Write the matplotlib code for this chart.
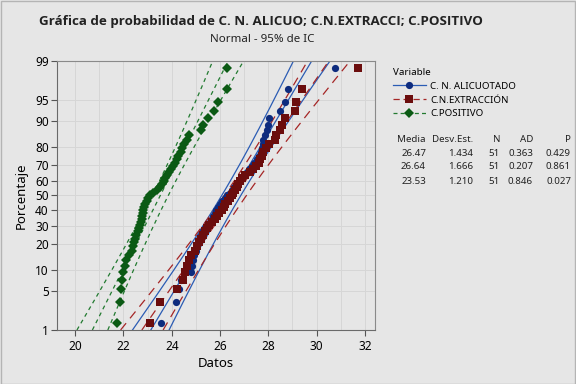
import numpy as np
import matplotlib.pyplot as plt
from matplotlib.lines import Line2D
from statistics import NormalDist

# Data (sorted values, n = 51 each)
series_names = ['C. N. ALICUOTADO', 'C.N.EXTRACCIÓN', 'C.POSITIVO']

alicuotado = [23.55, 24.18, 24.30, 24.37, 24.80, 24.85, 24.89, 24.94, 25.00, 25.05,
              25.10, 25.15, 25.22, 25.30, 25.40, 25.50, 25.58, 25.66, 25.72, 25.78,
              25.85, 25.92, 26.00, 26.10, 26.20, 26.30, 26.40, 26.50, 26.60, 26.70,
              26.80, 26.90, 27.00, 27.10, 27.22, 27.32, 27.42, 27.55, 27.62, 27.68,
              27.74, 27.77, 27.80, 27.88, 27.95, 28.00, 28.05, 28.50, 28.70, 28.83,
              30.75]

extraccion = [23.10, 23.50, 24.20, 24.45, 24.55, 24.65, 24.72, 24.78, 24.95, 25.05,
              25.12, 25.20, 25.30, 25.38, 25.45, 25.55, 25.68, 25.80, 25.88, 25.95,
              26.07, 26.15, 26.22, 26.32, 26.40, 26.48, 26.55, 26.62, 26.70, 26.76,
              26.82, 26.90, 27.05, 27.25, 27.35, 27.50, 27.60, 27.65, 27.72, 27.79,
              27.90, 28.05, 28.27, 28.34, 28.48, 28.55, 28.69, 29.10, 29.14, 29.40,
              31.72]

positivo = [21.75, 21.87, 21.90, 21.93, 21.97, 22.05, 22.11, 22.23, 22.35, 22.40,
            22.44, 22.48, 22.54, 22.59, 22.65, 22.69, 22.71, 22.75, 22.79, 22.81,
            22.83, 22.85, 22.90, 22.96, 23.02, 23.10, 23.23, 23.39, 23.52, 23.60,
            23.68, 23.74, 23.81, 23.89, 23.97, 24.05, 24.14, 24.22, 24.28, 24.37,
            24.43, 24.53, 24.62, 24.73, 25.21, 25.30, 25.52, 25.75, 25.93, 26.29,
            26.31]

media = [26.47, 26.64, 23.53]
desv_est = [1.434, 1.666, 1.210]
n_obs = [51, 51, 51]
ad_stat = [0.363, 0.207, 0.846]
p_val = [0.429, 0.861, 0.027]

pct_ticks = [1, 5, 10, 20, 30, 40, 50, 60, 70, 80, 90, 95, 99]
x_ticks = [20, 22, 24, 26, 28, 30, 32]

marker_colors = ['#0d2b7e', '#6b0d0d', '#0b5a14']
line_colors = ['#2b5cb4', '#a52626', '#227a30']
markers = ['o', 's', 'D']
msizes = [5.2, 5.6, 5.0]
dashes = [None, (7, 5), (3.2, 3)]

nd = NormalDist()
bg = '#e6e6e6'

plt.rcParams['font.family'] = ['Noto Sans', 'DejaVu Sans']

fig = plt.figure(figsize=(5.76, 3.84), dpi=100, facecolor=bg)
ax = fig.add_axes([57 / 576, 1 - 330 / 384, 318 / 576, 269.3 / 384])
ax.set_facecolor(bg)

zmin = nd.inv_cdf(0.01)
zmax = nd.inv_cdf(0.99)
zz = np.linspace(zmin, zmax, 200)

data_sets = [alicuotado, extraccion, positivo]
for k, vals in enumerate(data_sets):
    vals = np.sort(np.array(vals))
    n = len(vals)
    ranks = np.arange(1, n + 1)
    pp = (ranks - 0.3) / (n + 0.4)
    zpts = np.array([nd.inv_cdf(p) for p in pp])

    m, s = media[k], desv_est[k]
    fit = m + s * zz
    half = 1.96 * s * np.sqrt((1 + zz ** 2 / 2) / n_obs[k])
    for xs in (fit, fit - half, fit + half):
        ln, = ax.plot(xs, zz, color=line_colors[k], lw=0.9, zorder=2)
        if dashes[k] is not None:
            ln.set_dashes(dashes[k])

    ax.plot(vals, zpts, linestyle='none', marker=markers[k],
            markersize=msizes[k], color=marker_colors[k],
            markeredgewidth=0, zorder=3 + k)

ax.set_xlim(19.25, 32.42)
ax.set_ylim(zmin, zmax)
ax.set_yticks([nd.inv_cdf(p / 100) for p in pct_ticks])
ax.set_yticklabels([str(p) for p in pct_ticks])
ax.set_xticks(x_ticks)
ax.set_xticks(np.arange(20, 33, 1), minor=True)
ax.tick_params(axis='both', which='major', labelsize=8.5, length=4,
               color='#555555', pad=2)
ax.tick_params(axis='x', which='minor', length=0)
ax.tick_params(axis='x', which='major', pad=3)
ax.grid(True, which='both', color='#d6d6d6', lw=0.7)
ax.set_axisbelow(True)
for side in ['left', 'bottom']:
    ax.spines[side].set_color('#6a6a6a')
    ax.spines[side].set_linewidth(0.8)
for side in ['top', 'right']:
    ax.spines[side].set_color('#8a8a8a')
    ax.spines[side].set_linewidth(0.8)

ax.set_xlabel('Datos', fontsize=9.5, labelpad=3)
ax.set_ylabel('Porcentaje', fontsize=9.5, labelpad=5)

fig.text(0.453, 1 - 21 / 384, 'Gráfica de probabilidad de C. N. ALICUO; C.N.EXTRACCI; C.POSITIVO',
         ha='center', va='center', fontsize=9.6, fontweight='bold', color='#222222',
         family=['Open Sans', 'DejaVu Sans'])
fig.text(0.455, 1 - 40 / 384, 'Normal - 95% de IC', ha='center', va='center',
         fontsize=8.3, color='#222222')

# legend
handles = []
for k in range(3):
    h = Line2D([], [], color=line_colors[k], lw=0.9, marker=markers[k],
               markersize=msizes[k], markerfacecolor=marker_colors[k],
               markeredgewidth=0)
    if dashes[k] is not None:
        h.set_dashes((3.2, 2.5) if k == 2 else (5, 3))
    handles.append(h)
leg = fig.legend(handles, series_names, title='Variable', loc='upper left',
                 bbox_to_anchor=(389 / 576, 1 - 64 / 384), frameon=False,
                 fontsize=7.0, title_fontsize=7.0, handlelength=3.4,
                 handletextpad=0.45, labelspacing=0.5, borderaxespad=0)
leg._legend_box.align = 'left'

# stats table
col_right = [426, 473, 500, 533, 571]
headers = ['Media', 'Desv.Est.', 'N', 'AD', 'P']
row_y = [139, 153, 167, 181]
for c, htxt in enumerate(headers):
    fig.text(col_right[c] / 576, 1 - row_y[0] / 384, htxt, ha='right',
             va='center', fontsize=7, color='#222222')
for r in range(3):
    cells = [f'{media[r]:.2f}', f'{desv_est[r]:.3f}', f'{n_obs[r]}',
             f'{ad_stat[r]:.3f}', f'{p_val[r]:.3f}']
    for c, txt in enumerate(cells):
        fig.text(col_right[c] / 576, 1 - row_y[r + 1] / 384, txt, ha='right',
                 va='center', fontsize=7, color='#222222')

fig.patches.append(plt.Rectangle((0.001, 0.001), 0.998, 0.997, transform=fig.transFigure,
                                 fill=False, edgecolor='#b4b4b4', lw=1))

fig.savefig('out.png', dpi=100, facecolor=bg)
